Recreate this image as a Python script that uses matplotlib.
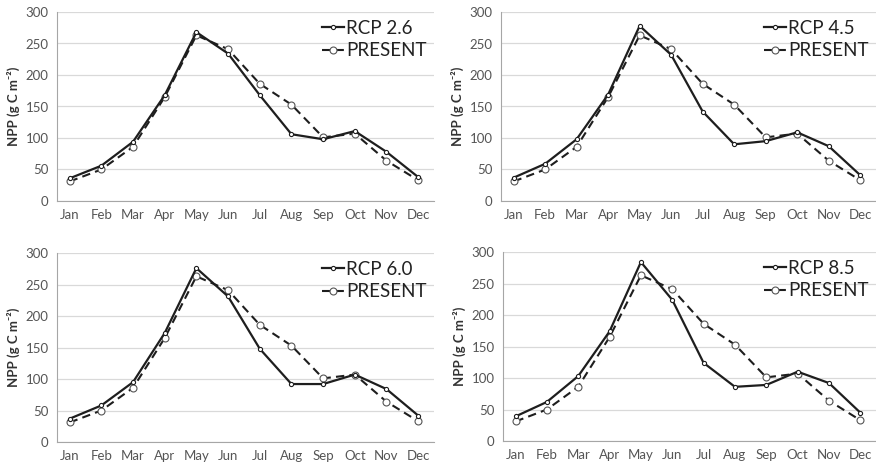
import matplotlib.pyplot as plt

plt.rcParams["font.family"] = ["Lato", "DejaVu Sans"]

months = ["Jan", "Feb", "Mar", "Apr", "May", "Jun",
          "Jul", "Aug", "Sep", "Oct", "Nov", "Dec"]

present = [31, 50, 86, 165, 263, 241, 186, 153, 101, 107, 64, 33]

rcp26 = [36, 56, 94, 168, 268, 234, 168, 106, 98, 111, 78, 38]
rcp45 = [37, 59, 98, 169, 278, 232, 142, 90, 95, 109, 87, 41]
rcp60 = [37, 58, 95, 173, 276, 231, 148, 92, 92, 107, 84, 42]
rcp85 = [39, 62, 103, 174, 284, 224, 124, 86, 89, 110, 92, 45]

scenarios = ["RCP 2.6", "RCP 4.5", "RCP 6.0", "RCP 8.5"]
series = [rcp26, rcp45, rcp60, rcp85]

# axes boxes in pixels: (left, right, y of 0, y of 300)
boxes = [
    (57, 434, 201, 12),
    (501, 876, 201, 12),
    (57, 434, 442, 253),
    (503, 876, 441, 252),
]

W, H = 876, 465
fig = plt.figure(figsize=(W / 100, H / 100), dpi=100)

line_col = "#1e1e1e"
text_col = "#555555"

for name, vals, (x0, x1, yb, yt) in zip(scenarios, series, boxes):
    ax = fig.add_axes([x0 / W, 1 - yb / H, (x1 - x0) / W, (yb - yt) / H])
    x = range(len(months))

    ax.plot(x, vals, color=line_col, lw=1.6, marker="o", markersize=3,
            markerfacecolor="white", markeredgecolor=line_col,
            markeredgewidth=0.8, label=name, zorder=3)
    ax.plot(x, present, color=line_col, lw=1.5, ls=(0, (4, 2.5)), marker="o",
            markersize=5, markerfacecolor="white", markeredgecolor="#555555",
            markeredgewidth=0.8, label="PRESENT", zorder=2)

    ax.set_xlim(-0.4, 11.5)
    ax.set_ylim(0, 300)
    ax.set_yticks(range(0, 301, 50))
    ax.set_xticks(list(x))
    ax.set_xticklabels(months)
    ax.grid(axis="y", color="#d9d9d9", lw=0.9)
    ax.set_axisbelow(True)
    for s in ["top", "right"]:
        ax.spines[s].set_visible(False)
    ax.spines["left"].set_color("#a6a6a6")
    ax.spines["bottom"].set_color("#a6a6a6")
    ax.tick_params(length=0, labelsize=9.5, colors=text_col, pad=6)
    ax.set_ylabel("NPP (g C m\u207b\u00b2)", fontsize=9.5, fontweight="bold",
                  color="#333333", labelpad=4)

    ax.legend(loc="upper right", frameon=False, fontsize=13.5,
              handlelength=1.2, handletextpad=0.1, labelspacing=0.3,
              borderaxespad=0.0, labelcolor="#222222")

fig.savefig("out.png", dpi=100)
